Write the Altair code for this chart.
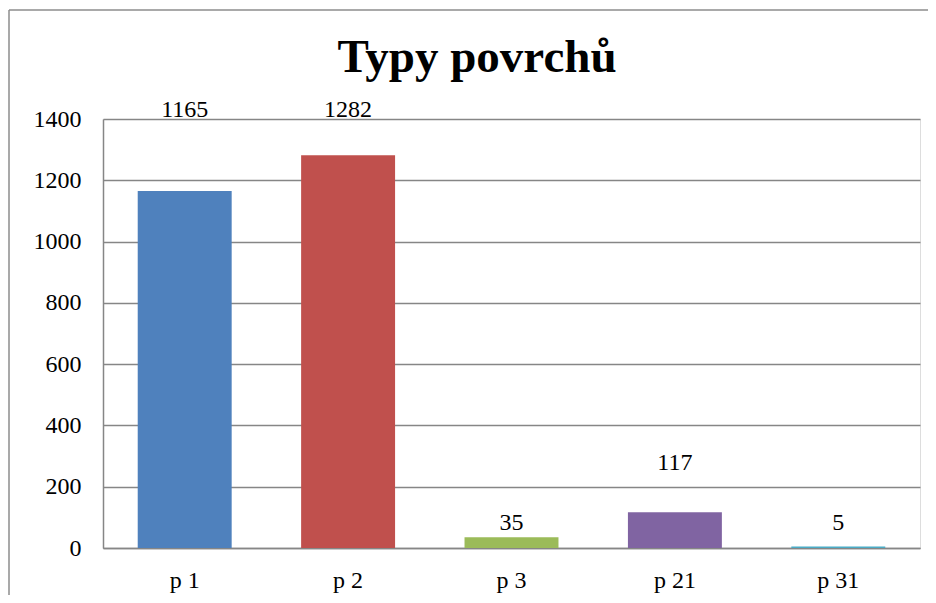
import altair as alt
import pandas as pd

categories = ["p 1", "p 2", "p 3", "p 21", "p 31"]
values = [1165, 1282, 35, 117, 5]
# where each value label sits (in axis units)
label_at = [1406, 1406, 59, 255, 59]
colors = ["#4F81BD", "#C0504D", "#9BBB59", "#8064A2", "#4BACC6"]
y_ticks = [0, 200, 400, 600, 800, 1000, 1200, 1400]
title_text = "Typy povrchů"

df = pd.DataFrame({"cat": categories, "val": values, "lab": label_at})

FONT = "Liberation Serif"
GRAY = "#868686"

x_enc = alt.X(
    "cat:N",
    sort=categories,
    scale=alt.Scale(paddingInner=0.425, paddingOuter=0.2125),
    axis=alt.Axis(
        title=None, labelAngle=0, ticks=False, labelPadding=20,
        labelFont=FONT, labelFontSize=24, labelColor="black",
        domainColor=GRAY, domainWidth=1.5, grid=False,
    ),
)

bars = alt.Chart(df).mark_bar().encode(
    x=x_enc,
    y=alt.Y(
        "val:Q",
        scale=alt.Scale(domain=[0, 1400], nice=False),
        axis=alt.Axis(
            title=None, values=y_ticks, ticks=False, labelPadding=22, format="d",
            labelFont=FONT, labelFontSize=24, labelColor="black",
            domainColor=GRAY, domainWidth=1.5,
            grid=True, gridColor=GRAY, gridWidth=1.4,
        ),
    ),
    color=alt.Color("cat:N", scale=alt.Scale(domain=categories, range=colors), legend=None),
)

labels = alt.Chart(df).mark_text(
    font=FONT, fontSize=24, color="black", baseline="alphabetic", align="center"
).encode(
    x=alt.X("cat:N", sort=categories),
    y=alt.Y("lab:Q"),
    text=alt.Text("val:Q", format="d"),
)

frame_data = alt.Data(values=[{"t": title_text}])
frame_v = alt.Chart(frame_data).mark_rule(color="#8c8c8c", strokeWidth=1.5).encode(
    x=alt.value(-94), y=alt.value(-109), y2=alt.value(490)
)
frame_h = alt.Chart(frame_data).mark_rule(color="#8c8c8c", strokeWidth=1.5).encode(
    x=alt.value(-94), x2=alt.value(840), y=alt.value(-109)
)
title = alt.Chart(frame_data).mark_text(
    font=FONT, fontSize=47, fontWeight="bold", color="black",
    baseline="alphabetic", align="center"
).encode(
    x=alt.value(374), y=alt.value(-47), text="t:N"
)

chart = alt.layer(frame_v, frame_h, bars, labels, title).properties(
    width=817,
    height=429,
    autosize=alt.AutoSizeParams(type="none"),
    padding={"left": 95, "top": 111, "right": 8, "bottom": 47},
).configure_view(stroke="black", strokeWidth=2).configure_text(font=FONT).configure(background="white")

chart.save("out.html", embed_options={"renderer": "svg", "actions": False})
